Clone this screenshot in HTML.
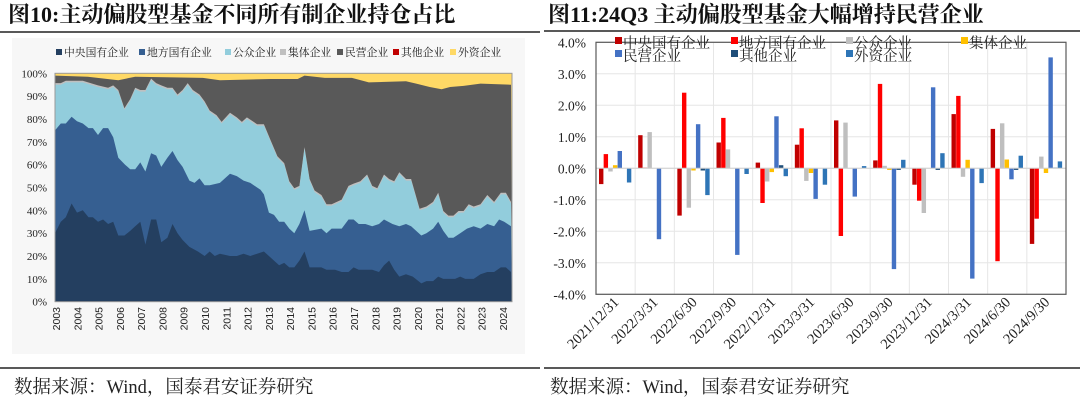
<!DOCTYPE html>
<html><head><meta charset="utf-8">
<style>
html,body{margin:0;padding:0;background:#fff;}
body{width:1080px;height:408px;overflow:hidden;position:relative;}
svg{position:absolute;left:0;top:0;}
</style></head>
<body>
<svg id="s" width="1080" height="408" xmlns="http://www.w3.org/2000/svg">
<rect x="12" y="38" width="513" height="316" fill="#f7f7f7"/>
<text x="8" y="22" font-family="Liberation Serif, Noto Serif CJK SC, serif" font-weight="bold" font-size="22" fill="#111">图10:主动偏股型基金不同所有制企业持仓占比</text>
<text x="548" y="22" font-family="Liberation Serif, Noto Serif CJK SC, serif" font-weight="bold" font-size="22" fill="#111">图11:24Q3 主动偏股型基金大幅增持民营企业</text>
<line x1="0" y1="32" x2="540" y2="32" stroke="#222" stroke-width="1.6"/>
<line x1="544" y1="31" x2="1080" y2="31" stroke="#222" stroke-width="1.6"/>
<line x1="0" y1="368" x2="540" y2="368" stroke="#222" stroke-width="1.6"/>
<line x1="544" y1="368" x2="1080" y2="368" stroke="#222" stroke-width="1.6"/>
<text x="14" y="393" font-family="Liberation Serif, Noto Serif CJK SC, serif" font-size="18.5" fill="#222">数据来源：Wind，国泰君安证券研究</text>
<text x="550" y="393" font-family="Liberation Serif, Noto Serif CJK SC, serif" font-size="18.5" fill="#222">数据来源：Wind，国泰君安证券研究</text>
<g id="L"></g><g id="R"></g>
</svg>
<script>
var NS="http://www.w3.org/2000/svg";
function el(p,t,a,txt){var e=document.createElementNS(NS,t);for(var k in a)e.setAttribute(k,a[k]);if(txt!=null)e.textContent=txt;p.appendChild(e);return e;}
var L=document.getElementById('L'),R=document.getElementById('R');
var X0=55,X1=512,Y100=73.3,Y0=301.7;
function lx(zx){return X0+(zx-163)*(X1-X0)/1350;}
function ly(p){return Y0-(Y0-Y100)*p/100;}
function area(pts,col){var d="M"+lx(163)+","+Y0;for(var i=0;i<pts.length;i+=2)d+=" L"+lx(pts[i]).toFixed(1)+","+ly(pts[i+1]).toFixed(1);d+=" L"+lx(1513)+","+Y0+"Z";el(L,'path',{d:d,fill:col});}
el(L,'rect',{x:X0,y:Y100,width:X1-X0,height:Y0-Y100,fill:"#ffd966"});
area([163,99,260,98.5,350,97,400,98.5,600,98,650,97,800,97.5,880,97.5,900,99,960,98,1040,98,1090,96,1200,96.5,1230,95.5,1270,94,1305,93,1330,94,1370,94.5,1420,95.5,1510,95],"#595959");
var pub=[163,95,180,95,195,96,245,96,290,94,320,93,335,94,350,92,368,84,385,88,400,93,415,92,430,92,447,97,462,95,477,94,495,93,510,93,525,90,540,92,555,95,570,92,590,90,605,87,620,83,640,81,655,78,680,82,700,80,715,78,730,80,760,77,780,77,800,70,820,63,840,60,855,52,870,49,885,50,900,67,915,53,930,48,950,46,965,42,980,42,1010,44,1030,50,1045,51,1065,52,1085,55,1100,50,1115,49,1135,55,1150,53,1165,52,1180,56,1200,53,1215,53,1240,40,1260,41,1280,43,1295,47,1310,39,1325,37,1340,37,1355,39,1370,39,1385,42,1400,41,1420,42,1440,46,1460,43,1480,47,1495,47,1510,43];
var pubg=pub.slice();for(var i=1;i<pubg.length;i+=2)pubg[i]+=0.7;
area(pubg,"#bfbfbf");area(pub,"#92cddc");
area([163,75,180,78,195,78,212,81,228,79,245,78,262,76,275,76,290,73,305,76,320,76,335,72,350,63,370,60,385,58,400,58,415,61,430,57,447,65,462,64,477,59,495,63,510,66,525,62,540,59,560,53,575,52,590,54,605,51,620,51,650,52,680,56,700,55,720,53,740,52,760,50,770,49,780,47,795,39,810,38,825,35,840,35,855,32,870,30,885,34,900,40,915,31,950,32,965,30,980,32,1010,32,1030,36,1045,36,1060,34,1080,34,1100,33,1120,34,1135,36,1160,34,1180,33,1200,34,1215,33,1245,29,1260,30,1280,32,1295,35,1310,31,1325,28,1340,28,1360,30,1380,32,1400,33,1420,32,1440,34,1460,33,1475,36,1490,35,1500,34,1510,33],"#365f91");
area([163,30,180,35,195,37,212,43,228,39,245,40,262,37,275,37,290,35,305,36,320,34,335,35,350,29,368,29,385,31,400,33,415,35,430,25,447,36,462,36,477,26,495,28,510,34,525,30,540,27,560,24,585,22,605,20,620,22,635,20,650,21,680,20,700,20,720,21,740,20,760,21,780,22,795,20,810,18,825,16,840,17,855,15,870,15,885,18,900,22,915,15,930,15,950,15,965,14,990,14,1010,13,1030,13,1045,15,1060,14,1080,14,1100,14,1120,13,1135,16,1150,18,1165,14,1180,11,1200,12,1220,11,1245,8,1260,9,1280,9,1295,11,1310,10,1330,10,1345,10,1360,11,1375,10,1400,10,1420,12,1440,13,1460,13,1480,15,1495,15,1510,13],"#243f60");
el(L,'rect',{x:X0,y:Y100,width:X1-X0,height:Y0-Y100,fill:"none",stroke:"#999","stroke-width":1});
for(var p=0;p<=100;p+=10)el(L,'text',{x:47,y:ly(p)+4,"text-anchor":"end","font-family":"Liberation Serif, serif","font-size":"11",fill:"#222"},p+"%");
for(var yr=2003;yr<=2024;yr++){var x=56+(yr-2003)*(503-56)/21;el(L,'text',{transform:"translate("+(x+4)+",307) rotate(-90)","text-anchor":"end","font-family":"Liberation Sans, sans-serif","font-size":"10.5",fill:"#222"},yr);}
var lg=[["中央国有企业","#243f60"],["地方国有企业","#365f91"],["公众企业","#92cddc"],["集体企业","#bfbfbf"],["民营企业","#595959"],["其他企业","#c00000"],["外资企业","#ffd966"]];
var lxp=[56,139,225,280,337,393,450];
lg.forEach(function(g,i){el(L,'rect',{x:lxp[i],y:49,width:6,height:6,fill:g[1]});el(L,'text',{x:lxp[i]+8,y:56,"font-family":"Noto Serif CJK SC, serif","font-size":"10.8",fill:"#222"},g[0]);});
var RX0=596,RX1=1066,RY0=168.3,PX=31.5;
function ry(v){return RY0-v*PX;}
for(var v=-4;v<=4;v++){el(R,'line',{x1:RX0,x2:RX1,y1:ry(v),y2:ry(v),stroke:"#e6e6e6"});el(R,'text',{x:586,y:ry(v)+5,"text-anchor":"end","font-family":"Liberation Serif, serif","font-size":"13.5",fill:"#222"},(v<0?"-":"")+Math.abs(v).toFixed(1)+"%");}
var GW=(RX1-RX0)/12;
for(var i=1;i<12;i++)el(R,'line',{x1:RX0+GW*i,x2:RX0+GW*i,y1:ry(4),y2:ry(-4),stroke:"#e6e6e6"});
var cols=["#c00000","#ff0000","#bfbfbf","#ffc000","#4472c4","#1f4e79","#2e75b6"];
var D=[[-0.5,0.45,-0.1,0.1,0.55,0,-0.45],[1.05,0.02,1.15,0,-2.25,0,0],[-1.5,2.4,-1.25,-0.07,1.4,-0.07,-0.85],[0.82,1.6,0.6,0,-2.75,0,-0.18],[0.18,-1.1,-0.42,-0.12,1.65,0.1,-0.25],[0.75,1.27,-0.4,-0.15,-0.97,0,-0.52],[1.52,-2.15,1.45,0,-0.9,0,0.07],[0.25,2.68,0.08,-0.05,-3.2,-0.05,0.27],[-0.52,-1.03,-1.42,0,2.57,-0.05,0.48],[1.72,2.3,-0.27,0.27,-3.5,0,-0.47],[1.25,-2.95,1.43,0.28,-0.35,-0.05,0.4],[-2.4,-1.6,0.37,-0.15,3.52,0.02,0.22]];
var labs=["2021/12/31","2022/3/31","2022/6/30","2022/9/30","2022/12/31","2023/3/31","2023/6/30","2023/9/30","2023/12/31","2024/3/31","2024/6/30","2024/9/30"];
D.forEach(function(g,i){var gx=RX0+GW*i+3;g.forEach(function(v,j){if(v==0)return;var y1=ry(v),y2=RY0;el(R,'rect',{x:(gx+j*4.65).toFixed(2),y:Math.min(y1,y2).toFixed(1),width:4.4,height:Math.max(0.6,Math.abs(y1-y2)).toFixed(1),fill:cols[j]});});
el(R,'text',{transform:"translate("+(RX0+GW*i+GW/2+4)+",303) rotate(-45)","text-anchor":"end","font-family":"Liberation Serif, serif","font-size":"14.5",fill:"#222"},labs[i]);});
el(R,'line',{x1:RX0,x2:RX1,y1:RY0,y2:RY0,stroke:"#d0d0d0"});
el(R,'rect',{x:RX0,y:ry(4),width:RX1-RX0,height:8*PX,fill:"none",stroke:"#595959","stroke-width":1.2});
var rl=[["中央国有企业",0,622,0],["地方国有企业",1,738,0],["公众企业",2,853,0],["集体企业",3,968,0],["民营企业",4,622,1],["其他企业",5,738,1],["外资企业",6,853,1]];
rl.forEach(function(r){var y=r[3]?56:43;el(R,'rect',{x:r[2]-7,y:y-6,width:7,height:7,fill:cols[r[1]]});el(R,'text',{x:r[2]+1,y:y+5,"font-family":"Noto Serif CJK SC, serif","font-size":"14.5",fill:"#222"},r[0]);});
</script>
</body></html>
